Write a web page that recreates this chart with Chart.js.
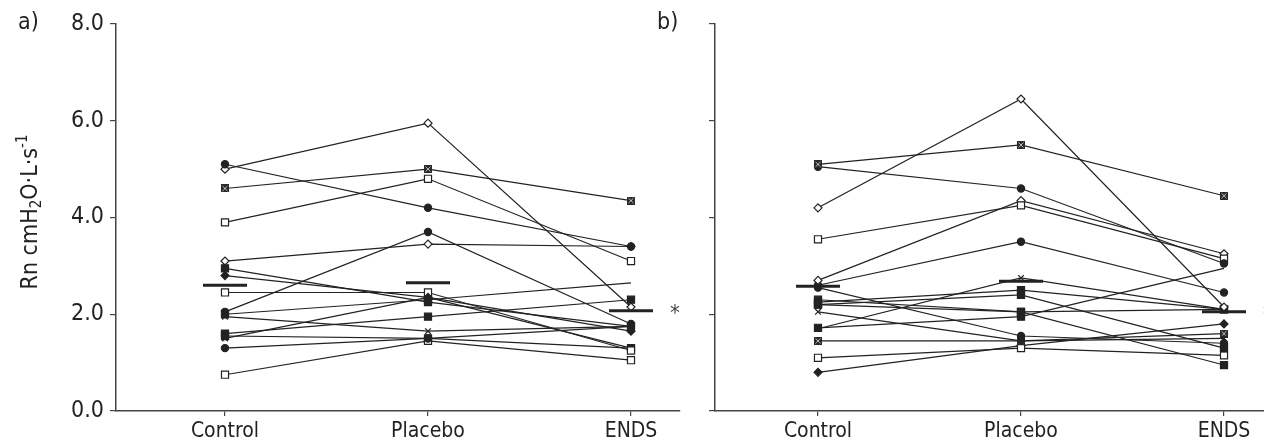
<!DOCTYPE html>
<html>
<head>
<meta charset="utf-8">
<script src="https://cdn.jsdelivr.net/npm/chart.js@4.4.1/dist/chart.umd.min.js"></script>
<style>
body { margin: 0; background: #fff; width: 1264px; height: 445px; overflow: hidden; position: relative;
	font-family: 'Liberation Sans Narrow', 'DejaVu Sans Condensed', sans-serif; }
#wrapA { position: absolute; left: 0; top: 0; width: 700px; height: 445px; }
#wrapB { position: absolute; left: 700px; top: 0; width: 564px; height: 445px; }
.panel { position: absolute; top: 8px; font-size: 23px; color: #222; }
</style>
</head>
<body>
<div id="wrapA"><canvas id="chartA" width="700" height="445"></canvas></div>
<div id="wrapB"><canvas id="chartB" width="564" height="445"></canvas></div>
<div class="panel" style="left:18px">a)</div>
<div class="panel" style="left:657px">b)</div>
<script>
var categories = ['Control', 'Placebo', 'ENDS'];

// panel a: one entry per subject
var aControl = [5.1, 5.0, 4.6, 3.9, 3.1, 2.95, 2.8, 2.45, 2.05, 2.0, 1.95, 1.6, 1.5, 1.3, 0.75, 1.55];
var aPlacebo = [4.2, 5.95, 5.0, 4.8, 3.45, 2.25, 2.35, 2.45, 3.7, 2.3, 1.65, 1.95, 2.35, 1.5, 1.45, 1.5];
var aEnds    = [3.4, 2.15, 4.35, 3.1, 3.4, 1.75, 1.65, 1.25, 1.8, 2.65, 1.75, 2.3, 1.3, 1.75, 1.05, 1.3];
var aMarks   = ['dot', 'dia', 'xsq', 'osq', 'dia', 'sq', 'fdia', 'osq', 'dot', 'sq', 'x', 'sq', 'x', 'dot', 'osq', 'sq'];
var aNoEndMark = [9];
var aMeans   = [2.6, 2.65, 2.07];

// panel b
var bControl = [5.1, 5.05, 4.2, 3.55, 2.7, 2.6, 2.55, 2.25, 2.2, 2.05, 1.7, 1.72, 1.45, 1.1, 0.8, 2.3, 2.2];
var bPlacebo = [5.5, 4.6, 6.45, 4.25, 4.35, 3.5, 1.55, 2.5, 2.4, 1.45, 2.75, 1.95, 1.45, 1.3, 1.35, 2.05, 2.05];
var bEnds    = [4.45, 3.05, 2.15, 3.15, 3.25, 2.45, 1.4, 2.1, 1.3, 1.5, 2.1, 2.95, 1.6, 1.15, 1.8, 0.95, 2.1];
var bMarks   = ['xsq', 'dot', 'dia', 'osq', 'dia', 'dot', 'dot', 'sq', 'sq', 'x', 'x', 'sq', 'xsq', 'osq', 'fdia', 'sq', 'osq'];
var bNoEndMark = [11];
var bMeans   = [2.58, 2.68, 2.05];

var FONT = "'Liberation Sans Narrow', 'DejaVu Sans Condensed', sans-serif";
var INK = '#222';

// little crossed square marker
var xsqImg = document.createElement('canvas');
xsqImg.width = 8;
xsqImg.height = 8;
(function() {
	var c = xsqImg.getContext('2d');
	c.fillStyle = '#2a2a2a';
	c.fillRect(0, 0, 8, 8);
	c.strokeStyle = '#bbb';
	c.lineWidth = 1;
	c.beginPath();
	c.moveTo(1.5, 1.5); c.lineTo(6.5, 6.5);
	c.moveTo(6.5, 1.5); c.lineTo(1.5, 6.5);
	c.stroke();
})();

function markStyle(m) {
	switch (m) {
		case 'dot': return { pointStyle: 'circle', r: 3.6, bg: INK };
		case 'sq': return { pointStyle: 'rect', r: 5, bg: INK };
		case 'osq': return { pointStyle: 'rect', r: 5, bg: '#fff' };
		case 'dia': return { pointStyle: 'rectRot', r: 4, bg: '#fff' };
		case 'fdia': return { pointStyle: 'rectRot', r: 4, bg: INK };
		case 'x': return { pointStyle: 'crossRot', r: 4, bg: INK };
		case 'xsq': return { pointStyle: xsqImg, r: 4, bg: INK };
	}
}

function buildDatasets(ctrl, plac, ends, marks, noEnd) {
	var sets = [];
	for (var i = 0; i < ctrl.length; i++) {
		var st = markStyle(marks[i]);
		var radius = [st.r, st.r, noEnd.indexOf(i) >= 0 ? 0 : st.r];
		sets.push({
			data: [{ x: 0, y: ctrl[i] }, { x: 1, y: plac[i] }, { x: 2, y: ends[i] }],
			showLine: true,
			borderColor: INK,
			borderWidth: 1.2,
			pointStyle: st.pointStyle,
			pointRadius: radius,
			pointHoverRadius: radius,
			pointBackgroundColor: st.bg,
			pointBorderColor: INK,
			pointBorderWidth: 1.2
		});
	}
	return sets;
}

function meansPlugin(means, withTitle) {
	return {
		id: 'means',
		afterDatasetsDraw: function(chart) {
			var ctx = chart.ctx;
			var xs = chart.scales.x, ys = chart.scales.y;
			ctx.save();
			ctx.strokeStyle = INK;
			ctx.lineWidth = 3;
			for (var i = 0; i < means.length; i++) {
				var px = xs.getPixelForValue(i);
				var py = ys.getPixelForValue(means[i]);
				ctx.beginPath();
				ctx.moveTo(px - 22, py);
				ctx.lineTo(px + 22, py);
				ctx.stroke();
			}
			// significance mark next to ENDS mean
			ctx.fillStyle = '#444';
			ctx.font = '22px ' + FONT;
			ctx.textAlign = 'center';
			ctx.textBaseline = 'middle';
			ctx.fillText('*', xs.getPixelForValue(2) + 44, ys.getPixelForValue(means[2]) + 3);

			if (withTitle) {
				ctx.translate(31, 212);
				ctx.rotate(-Math.PI / 2);
				var parts = [
					['Rn cmH', 23, 0],
					['2', 15, 6],
					['O\u00b7L\u00b7s', 23, 0],
					['-1', 15, -8]
				];
				var total = 0;
				parts.forEach(function(p) {
					ctx.font = p[1] + 'px ' + FONT;
					total += ctx.measureText(p[0]).width;
				});
				var cx = -total / 2;
				ctx.textAlign = 'left';
				ctx.fillStyle = INK;
				parts.forEach(function(p) {
					ctx.font = p[1] + 'px ' + FONT;
					ctx.fillText(p[0], cx, p[2]);
					cx += ctx.measureText(p[0]).width;
				});
			}
			ctx.restore();
		}
	};
}

function drawPanel(id, sets, means, yWidth, xMin, xMax, padRight, showLabels) {
	return new Chart(document.getElementById(id), {
		type: 'scatter',
		data: { datasets: sets },
		options: {
			responsive: false,
			animation: false,
			layout: { autoPadding: false, padding: { top: 24, right: padRight, left: 0, bottom: 0 } },
			plugins: { legend: { display: false }, tooltip: { enabled: false } },
			scales: {
				x: {
					type: 'linear',
					min: xMin,
					max: xMax,
					afterBuildTicks: function(scale) {
						scale.ticks = [0, 1, 2].map(function(v) { return { value: v }; });
					},
					afterFit: function(scale) { scale.height = 34; },
					ticks: {
						color: INK,
						font: { family: FONT, size: 21 },
						padding: 3,
						maxRotation: 0,
						callback: function(v) { return categories[v]; }
					},
					grid: { drawOnChartArea: false, drawTicks: true, tickLength: 5, color: '#444', lineWidth: 1.2 },
					border: { display: true, color: '#444', width: 1.5 }
				},
				y: {
					min: 0,
					max: 8,
					afterFit: function(scale) { scale.width = yWidth; },
					ticks: {
						display: showLabels,
						stepSize: 2,
						color: INK,
						font: { family: FONT, size: 23 },
						padding: 6,
						callback: function(v) { return v.toFixed(1); }
					},
					grid: { drawOnChartArea: false, drawTicks: true, tickLength: 6, color: '#444', lineWidth: 1.2 },
					border: { display: true, color: '#444', width: 1.5 }
				}
			}
		},
		plugins: [meansPlugin(means, showLabels)]
	});
}

drawPanel('chartA', buildDatasets(aControl, aPlacebo, aEnds, aMarks, aNoEndMark), aMeans,
	116, -109 / 203, 2 + 49 / 203, 20, true);
drawPanel('chartB', buildDatasets(bControl, bPlacebo, bEnds, bMarks, bNoEndMark), bMeans,
	15, -103 / 203, 2 + 40 / 203, 0, false);
</script>
</body>
</html>
